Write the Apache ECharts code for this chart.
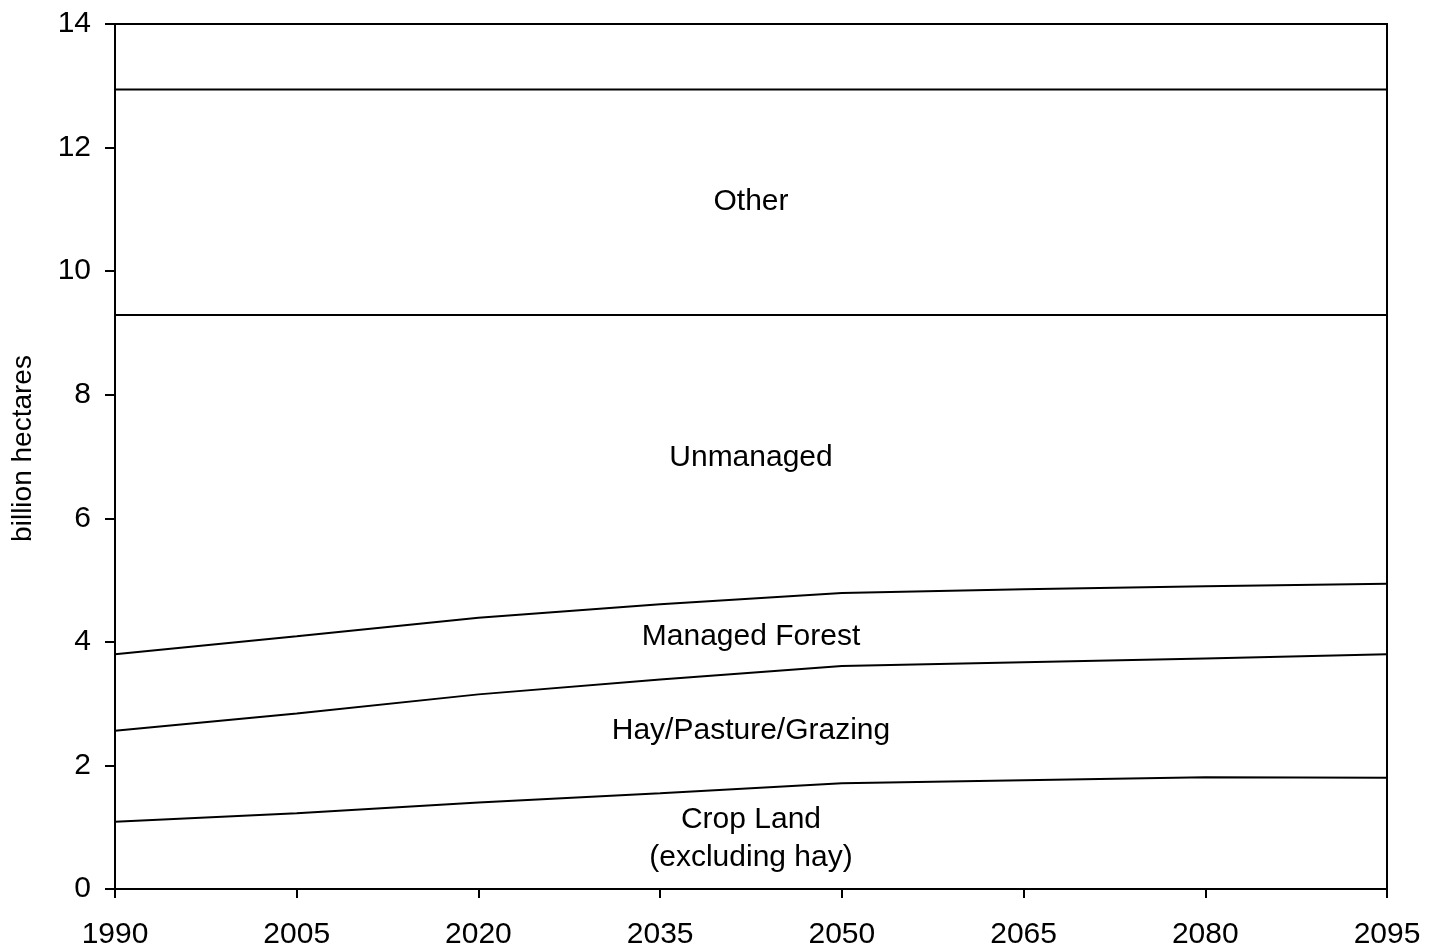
<!DOCTYPE html>
<html>
<head>
<meta charset="utf-8">
<title>Global land use projection</title>
<script src="https://cdn.jsdelivr.net/npm/echarts@6/dist/echarts.min.js"></script>
<style>
  html, body { margin: 0; padding: 0; background: #fff; }
  #chart { width: 1434px; height: 950px; }
</style>
</head>
<body>
<div id="chart"></div>
<script>
// Years on the horizontal axis
const years = ['1990', '2005', '2020', '2035', '2050', '2065', '2080', '2095'];

// Land area by category (billion hectares), stacked bottom to top
const cropLand   = [1.09, 1.225, 1.40, 1.55, 1.71, 1.76, 1.81, 1.80];
const hayPasture = [1.47, 1.615, 1.75, 1.84, 1.90, 1.91, 1.92, 2.00];
const managedForest = [1.24, 1.25, 1.24, 1.22, 1.18, 1.18, 1.17, 1.14];
const unmanaged  = [5.49, 5.20, 4.90, 4.68, 4.50, 4.44, 4.39, 4.35];
const other      = [3.65, 3.65, 3.65, 3.65, 3.65, 3.65, 3.65, 3.65];

// Band captions: text and vertical position (billion hectares)
const bandNames = ['Other', 'Unmanaged', 'Managed Forest', 'Hay/Pasture/Grazing', 'Crop Land\n(excluding hay)'];
const bandLabelY = [11.12, 6.98, 4.09, 2.56, 0.81];

const font = '"Liberation Sans", Arial, Helvetica, sans-serif';

function bandSeries(name, values) {
  return {
    name: name,
    type: 'line',
    stack: 'land',
    data: values,
    symbol: 'none',
    silent: true,
    lineStyle: { color: '#000', width: 2 },
    z: 3
  };
}

const chart = echarts.init(document.getElementById('chart'), null, { renderer: 'canvas' });

chart.setOption({
  animation: false,
  backgroundColor: '#fff',
  grid: {
    left: 115, right: 47, top: 24, bottom: 61,
    show: true, borderColor: '#000', borderWidth: 2, backgroundColor: 'transparent'
  },
  xAxis: [{
    type: 'category',
    data: years,
    boundaryGap: false,
    axisLine: { lineStyle: { color: '#000', width: 2 } },
    axisTick: { show: true, inside: false, length: 9, alignWithLabel: true, lineStyle: { color: '#000', width: 2 } },
    axisLabel: { color: '#000', fontSize: 30, fontFamily: font, margin: 31, interval: 0 },
    splitLine: { show: false }
  }, {
    // Hidden continuous axis over the same span, used to centre the captions
    type: 'value',
    min: 0, max: years.length - 1,
    show: false
  }],
  yAxis: {
    type: 'value',
    min: 0, max: 14, interval: 2,
    name: 'billion hectares',
    nameLocation: 'middle',
    nameRotate: 90,
    nameGap: 78,
    nameTextStyle: { color: '#000', fontSize: 28, fontFamily: font, padding: [0, 0, 0, 16] },
    axisLine: { show: true, lineStyle: { color: '#000', width: 2 } },
    axisTick: { show: true, inside: false, length: 10, lineStyle: { color: '#000', width: 2 } },
    axisLabel: { color: '#000', fontSize: 30, fontFamily: font, margin: 24 },
    splitLine: { show: false }
  },
  series: [
    bandSeries('Crop Land', cropLand),
    bandSeries('Hay/Pasture/Grazing', hayPasture),
    bandSeries('Managed Forest', managedForest),
    bandSeries('Unmanaged', unmanaged),
    bandSeries('Other', other),
    {
      // Captions centred horizontally in each band
      type: 'custom',
      xAxisIndex: 1,
      silent: true,
      data: bandNames.map((n, i) => [(years.length - 1) / 2, bandLabelY[i]]),
      renderItem: function (params, api) {
        const pt = api.coord([api.value(0), api.value(1)]);
        return {
          type: 'text',
          x: pt[0],
          y: pt[1],
          style: {
            text: bandNames[params.dataIndex],
            fill: '#000',
            font: '30px ' + font,
            lineHeight: 38,
            align: 'center',
            verticalAlign: 'middle'
          }
        };
      },
      z: 4
    }
  ]
});
</script>
</body>
</html>
